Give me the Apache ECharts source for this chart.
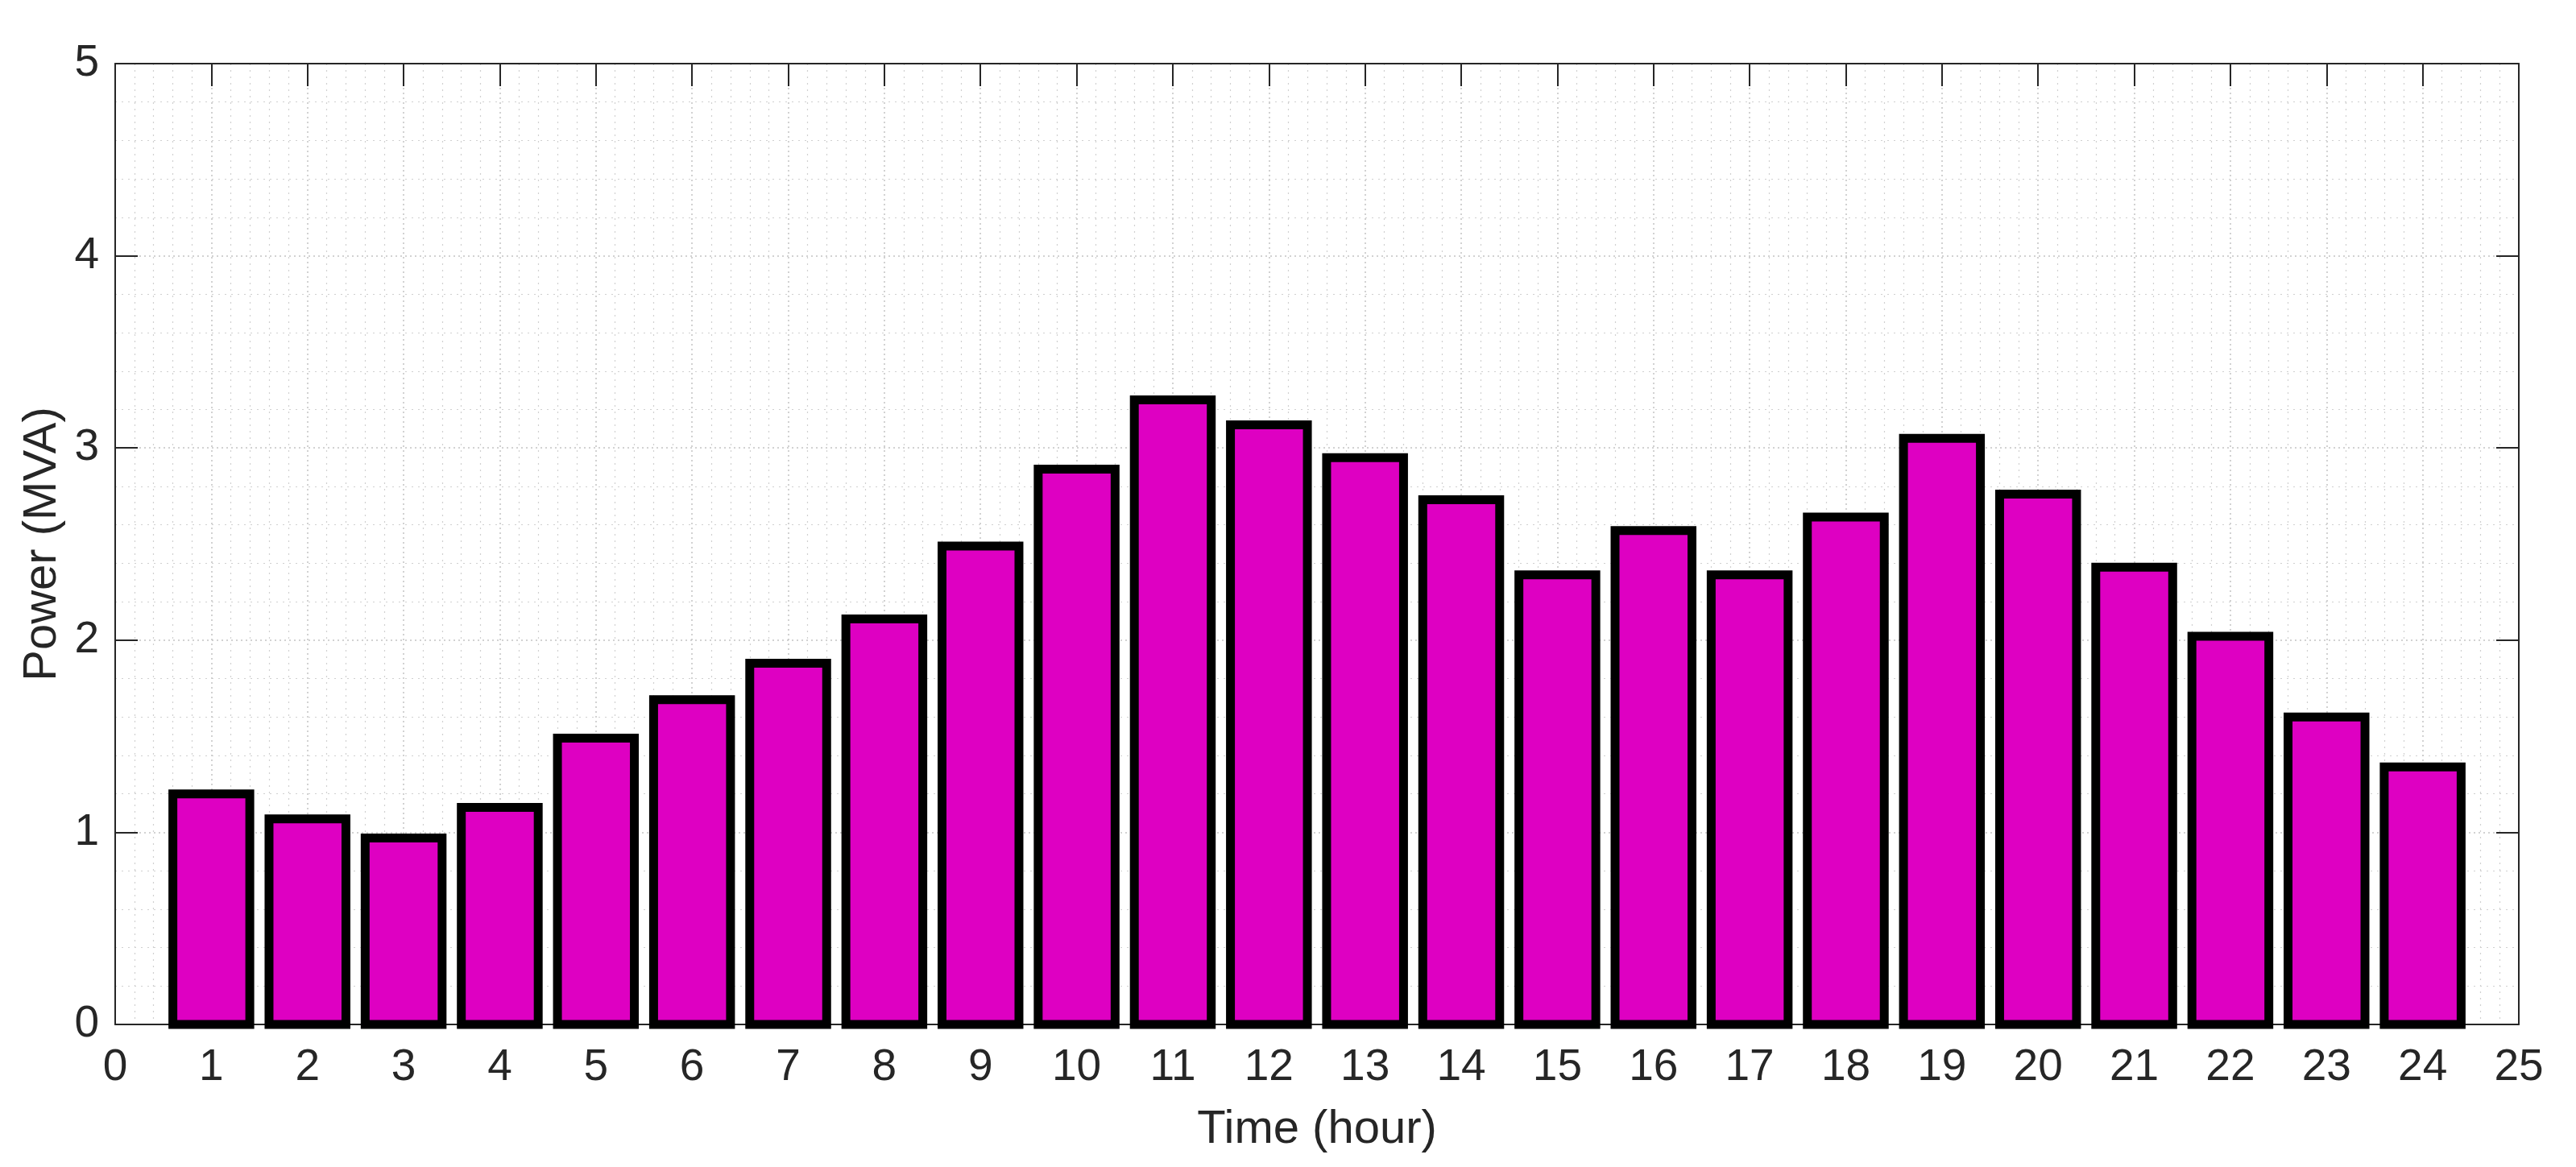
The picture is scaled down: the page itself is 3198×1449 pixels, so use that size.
<!DOCTYPE html>
<html>
<head>
<meta charset="utf-8">
<script src="https://cdn.jsdelivr.net/npm/echarts@6/dist/echarts.min.js"></script>
<style>
html,body{margin:0;padding:0;background:#fff;}
#chart{width:3198px;height:1449px;}
</style>
</head>
<body>
<div id="chart"></div>
<script>
var hours = [1,2,3,4,5,6,7,8,9,10,11,12,13,14,15,16,17,18,19,20,21,22,23,24];
var power = [1.20,1.07,0.97,1.13,1.49,1.69,1.88,2.11,2.49,2.89,3.25,3.12,2.95,2.73,2.34,2.57,2.34,2.64,3.05,2.76,2.38,2.02,1.60,1.34];
var xTitle = 'Time (hour)';
var yTitle = 'Power (MVA)';

var chart = echarts.init(document.getElementById('chart'), null, {renderer:'canvas'});
var axisColor = '#262626';
var font = 'Liberation Sans, Arial, Helvetica, sans-serif';
var BAR_HALF = 0.4; // bar width 0.8 of one hour

var data = hours.map(function(h,i){ return [h, power[i]]; });

var baseX = {
  type:'value', min:0, max:25, interval:1,
  axisLine:{show:true, onZero:false, lineStyle:{color:axisColor, width:2}},
  axisTick:{show:true, inside:true, length:28, lineStyle:{color:axisColor, width:2}}
};
var baseY = {
  type:'value', min:0, max:5, interval:1,
  axisLine:{show:true, onZero:false, lineStyle:{color:axisColor, width:2}},
  axisTick:{show:true, inside:true, length:28, lineStyle:{color:axisColor, width:2}}
};

chart.setOption({
  animation:false,
  backgroundColor:'#ffffff',
  grid:{left:143, right:71, top:79, bottom:177, containLabel:false},
  xAxis:[
    Object.assign({}, baseX, {
      position:'bottom',
      name:xTitle, nameLocation:'middle', nameGap:102,
      nameTextStyle:{fontFamily:font, fontSize:58, color:axisColor},
      axisLabel:{show:true, margin:26, fontFamily:font, fontSize:55, color:axisColor},
      splitLine:{show:true, lineStyle:{color:'#c4c4c4', width:1.5, type:[2,4]}},
      minorTick:{show:false, splitNumber:5},
      minorSplitLine:{show:true, lineStyle:{color:'#d0d0d0', width:1.2, type:[2,6]}}
    }),
    Object.assign({}, baseX, {
      position:'top',
      axisLabel:{show:false},
      splitLine:{show:false}
    })
  ],
  yAxis:[
    Object.assign({}, baseY, {
      position:'left',
      name:yTitle, nameLocation:'middle', nameGap:60,
      nameTextStyle:{fontFamily:font, fontSize:58, color:axisColor},
      axisLabel:{show:true, margin:20, fontFamily:font, fontSize:55, color:axisColor},
      splitLine:{show:true, lineStyle:{color:'#c4c4c4', width:1.5, type:[2,4]}},
      minorTick:{show:false, splitNumber:5},
      minorSplitLine:{show:true, lineStyle:{color:'#d0d0d0', width:1.2, type:[2,6]}}
    }),
    Object.assign({}, baseY, {
      position:'right',
      axisLabel:{show:false},
      splitLine:{show:false}
    })
  ],
  series:[{
    type:'custom',
    xAxisIndex:0, yAxisIndex:0,
    data:data,
    clip:false,
    z:3,
    encode:{x:0, y:1},
    renderItem:function(params, api){
      var x = api.value(0), y = api.value(1);
      var p0 = api.coord([x - BAR_HALF, y]);
      var p1 = api.coord([x + BAR_HALF, 0]);
      return {
        type:'rect',
        shape:{x:p0[0], y:p0[1], width:p1[0]-p0[0], height:p1[1]-p0[1]},
        style:{fill:'#de00c2', stroke:'#000000', lineWidth:11, lineJoin:'miter'}
      };
    }
  }]
});
</script>
</body>
</html>
